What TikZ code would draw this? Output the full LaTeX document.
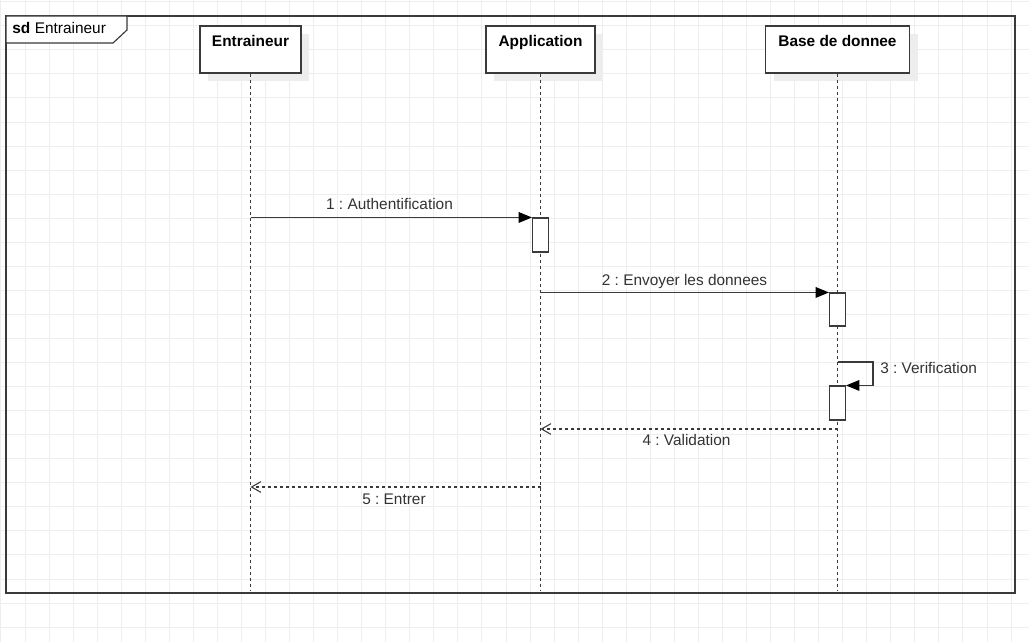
\documentclass[tikz,border=0pt]{standalone}
\usepackage{fontspec}
\setmainfont{Liberation Sans}
\usetikzlibrary{arrows.meta,shadows}
\definecolor{gridc}{HTML}{EEEEEE}
\definecolor{linec}{HTML}{3A3A3A}
\definecolor{txtc}{HTML}{333333}
\frenchspacing
\tikzset{
  lifebox/.style={draw=linec, line width=0.85pt, fill=white, inner sep=0pt,
    minimum height=35.25pt,
    drop shadow={shadow xshift=6pt, shadow yshift=-6pt, fill=black!7, opacity=1}},
  actbox/.style={draw=linec, line width=0.8pt, fill=white, inner sep=0pt, minimum width=12pt},
  lifeline/.style={draw=linec, line width=0.8pt, dash pattern=on 2.25pt off 2.25pt},
  syncmsg/.style={draw=linec, line width=0.8pt, -{Triangle[length=10pt,width=8pt,fill=black,color=black]}},
  retmsg/.style={draw=linec, line width=0.8pt, dash pattern=on 2.25pt off 2.25pt,
    -{Straight Barb[length=7pt,width=8pt,line width=0.8pt]}},
  msglabel/.style={text=txtc, inner sep=0pt, anchor=base},
  titlelabel/.style={inner sep=0pt, anchor=base, font=\bfseries\fontsize{11.55}{14}\selectfont}
}
\begin{document}
\begin{tikzpicture}[x=0.75pt, y=-0.75pt, font=\fontsize{11.55}{14}\selectfont]
\useasboundingbox (0,0) rectangle (1029,642);
\fill[white] (0,0) rectangle (1029,642);
% grid
\foreach \i in {0,...,42} \draw[gridc, line width=0.75pt] ({0.95+24.05*\i},0) -- ({0.95+24.05*\i},642);
\foreach \j in {0,...,26} \draw[gridc, line width=0.75pt] (0,{1.8+24.05*\j}) -- (1029,{1.8+24.05*\j});
% frame
\draw[linec, line width=1.1pt] (6,16) rectangle (1015,593);
\draw[linec, line width=0.85pt, fill=white] (6,16) -- (127,16) -- (127,30) -- (113,43) -- (6,43) -- cycle;
\node[anchor=base west, inner sep=0pt] (frametitle) at (12,33.5) {\textbf{sd}\hspace{0.3em}Entraineur};
% lifeline heads
\node[lifebox, minimum width=75.75pt] (e) at (250.5,49.5) {};
\node[lifebox, minimum width=81.75pt] (a) at (540.5,49.5) {};
\node[lifebox, minimum width=108pt] (b) at (837.5,49.5) {};
\node[titlelabel] (et) at (250.5,46.5) {Entraineur};
\node[titlelabel] (at) at (540.5,46.5) {Application};
\node[titlelabel] (bt) at (837.5,46.5) {Base de donnee};
% lifelines
\coordinate (eend) at (250.5,590);
\coordinate (aend) at (540.5,590);
\coordinate (bend) at (837.5,590);
\draw[lifeline] (e.south) -- (eend);
\draw[lifeline] (a.south) -- (aend);
\draw[lifeline] (b.south) -- (bend);
% activations
\node[actbox, minimum height=25.5pt] (act1) at (540.5,235) {};
\node[actbox, minimum height=24.75pt] (act2) at (837.5,309.5) {};
\node[actbox, minimum height=25.5pt] (act3) at (837.5,403) {};
% messages
\draw[syncmsg] (e |- act1.north) -- (act1.north west);
\node[msglabel] (l1) at (389.5,209.5) {1 : Authentification};
\draw[syncmsg] (a |- act2.north) -- (act2.north west);
\node[msglabel] (l2) at (684.5,285) {2 : Envoyer les donnees};
\coordinate (s3) at (837.5,362);
\draw[syncmsg] (s3) -- (873,362) |- (act3.north east);
\node[msglabel, anchor=base west] (l3) at (880,373.7) {3 : Verification};
\coordinate (m4s) at (837.5,429);
\coordinate (m4e) at (540.5,429);
\draw[retmsg] (m4s) -- (m4e);
\node[msglabel] (l4) at (686.5,445) {4 : Validation};
\coordinate (m5s) at (540.5,487);
\coordinate (m5e) at (250.5,487);
\draw[retmsg] (m5s) -- (m5e);
\node[msglabel] (l5) at (394,504) {5 : Entrer};
\end{tikzpicture}
\end{document}
